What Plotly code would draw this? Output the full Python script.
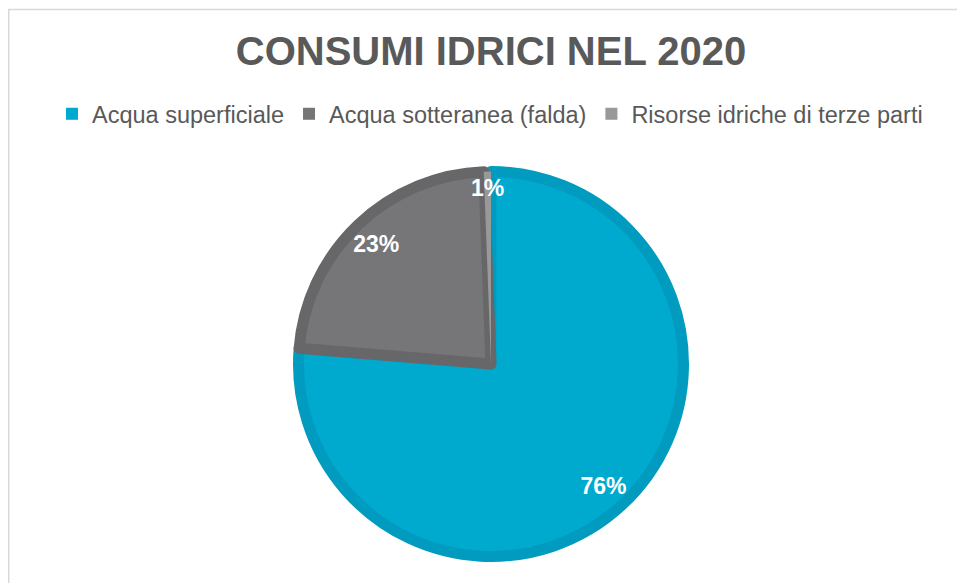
import plotly.graph_objects as go

# ---- data ----
categories = ["Acqua superficiale", "Acqua sotteranea (falda)", "Risorse idriche di terze parti"]
values = [76.3, 23.1, 0.6]
title_text = "CONSUMI IDRICI NEL 2020"

# ---- styles ----
fill_colors = ["#00A9CE", "#767678", "#999999"]
border_colors = ["#009BBE", "#67676A", "#999999"]
border_widths = [11, 11, 0]
font_family = "Liberation Sans, Arial, sans-serif"
text_grey = "#595959"
PCT = "%{percent:.0%}"

W, H = 965, 583
OFF = 8  # page body margin
cx, cy, R = 491 - OFF, 364 - OFF, 198


def dom(r):
    return dict(x=[(cx - r) / W, (cx + r) / W], y=[(H - cy - r) / H, (H - cy + r) / H])


r_dom = R - 5.5
common = dict(labels=categories, values=values, sort=False, direction="clockwise", rotation=0)
lab_font = dict(family=font_family, size=23, color="white", weight="bold")
clear = ["rgba(0,0,0,0)"] * 3

fig = go.Figure()

# base pie used for legend symbols (plain fills)
fig.add_trace(go.Pie(
    **common, domain=dom(r_dom),
    marker=dict(colors=fill_colors, line=dict(width=0)),
    textinfo="none", hoverinfo="skip", showlegend=True,
))

# visible pie with darker borders
fig.add_trace(go.Pie(
    **common, domain=dom(r_dom),
    marker=dict(colors=fill_colors, line=dict(color=border_colors, width=border_widths)),
    textinfo="none", showlegend=False,
))

# transparent rings carrying the percentage labels near the rim
fig.add_trace(go.Pie(
    **common, domain=dom(r_dom), hole=0.725,
    marker=dict(colors=clear, line=dict(width=0)),
    texttemplate=[PCT, PCT, ""], textposition="inside",
    insidetextorientation="horizontal", insidetextfont=lab_font,
    hoverinfo="skip", showlegend=False,
))
fig.add_trace(go.Pie(
    **common, domain=dom(179), hole=155 / 179,
    marker=dict(colors=clear, line=dict(width=0)),
    texttemplate=["", "", PCT], textposition="inside",
    insidetextorientation="horizontal", insidetextfont=lab_font,
    hoverinfo="skip", showlegend=False,
))

fig.update_layout(
    width=W, height=H,
    margin=dict(l=0, r=0, t=0, b=0),
    paper_bgcolor="white", plot_bgcolor="white",
    title=dict(text=title_text, x=(491 - OFF) / W, xanchor="center", y=1 - (51 - OFF) / H, yanchor="middle",
               font=dict(family=font_family, size=40, color=text_grey, weight="bold")),
    legend=dict(orientation="h", x=(490 - OFF) / W, xanchor="center", y=1 - (114 - OFF) / H, yanchor="middle",
                font=dict(family=font_family, size=23.5, color=text_grey),
                itemwidth=30, traceorder="normal", bgcolor="rgba(0,0,0,0)"),
    uniformtext=dict(minsize=23, mode="show"),
    shapes=[
        dict(type="line", xref="paper", yref="paper", x0=0.75 / W, x1=0.75 / W, y0=0, y1=1 - 1.5 / H,
             line=dict(color="#D9D9D9", width=1.5)),
        dict(type="line", xref="paper", yref="paper", x0=0, x1=1, y0=1 - 1.5 / H, y1=1 - 1.5 / H,
             line=dict(color="#D9D9D9", width=1.5)),
    ],
)

fig.write_html("out.html")
